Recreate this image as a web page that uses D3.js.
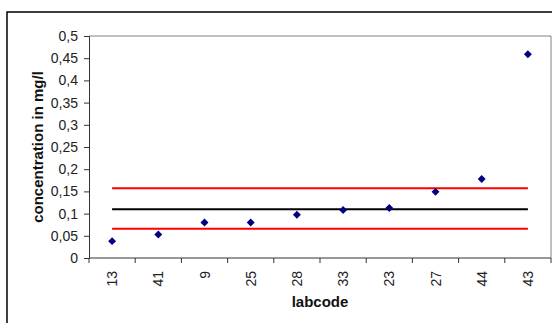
<!DOCTYPE html>
<html>
<head>
<meta charset="utf-8">
<script src="https://cdn.jsdelivr.net/npm/d3@7"></script>
<style>
  html, body { margin: 0; padding: 0; background: #fff; }
  svg { display: block; }
  text { font-family: "Liberation Sans", Arial, sans-serif; }
</style>
</head>
<body>
<svg id="chart" width="552" height="323"></svg>
<script>
// Lab results, sorted by concentration
const labcodes = ["13", "41", "9", "25", "28", "33", "23", "27", "44", "43"];
const concentrations = [0.038, 0.053, 0.080, 0.080, 0.0975, 0.108, 0.1125, 0.149, 0.178, 0.459];

// Reference value and tolerance limits
const assignedValue = 0.110;
const upperLimit = 0.157;
const lowerLimit = 0.066;

const yTicks = [0, 0.05, 0.1, 0.15, 0.2, 0.25, 0.3, 0.35, 0.4, 0.45, 0.5];

const svg = d3.select("#chart");
const plot = { left: 89, top: 36, right: 551, bottom: 258 };

// Outer chart frame
svg.append("rect")
  .attr("x", 7).attr("y", 12)
  .attr("width", 560).attr("height", 330)
  .attr("fill", "#fff").attr("stroke", "#000").attr("stroke-width", 1.5);

const x = d3.scaleBand().domain(labcodes).range([plot.left, plot.right]);
const y = d3.scaleLinear().domain([0, 0.5]).range([plot.bottom, plot.top]);

// Plot area border (top and right)
svg.append("path")
  .attr("d", `M${plot.left},${plot.top}H${plot.right}V${plot.bottom}`)
  .attr("fill", "none").attr("stroke", "#808080").attr("stroke-width", 1);

const fmt = d => String(d).replace(".", ",");

// Y axis
const yAxis = svg.append("g")
  .attr("transform", `translate(${plot.left},0)`)
  .call(d3.axisLeft(y).tickValues(yTicks).tickFormat(fmt).tickSize(5).tickPadding(6));
yAxis.select(".domain").attr("stroke", "#333");
yAxis.selectAll(".tick line").attr("stroke", "#333");
yAxis.selectAll(".tick text")
  .attr("font-size", 14).attr("fill", "#222")
  .attr("font-family", "Liberation Sans, Arial, sans-serif");

// X axis: ticks sit on category boundaries
const xAxisG = svg.append("g").attr("transform", `translate(0,${plot.bottom})`);
xAxisG.append("line")
  .attr("x1", plot.left).attr("x2", plot.right)
  .attr("stroke", "#333");
const boundaries = labcodes.map(c => x(c)).concat([plot.right]);
xAxisG.selectAll("line.tk").data(boundaries).join("line")
  .attr("class", "tk")
  .attr("x1", d => d).attr("x2", d => d)
  .attr("y1", 0).attr("y2", 5)
  .attr("stroke", "#333");
xAxisG.selectAll("text.lbl").data(labcodes).join("text")
  .attr("class", "lbl")
  .attr("transform", d => `translate(${x(d) + x.bandwidth() / 2 + 5},13) rotate(-90)`)
  .attr("text-anchor", "end")
  .attr("font-size", 14).attr("fill", "#222")
  .text(d => d);

// Axis titles
svg.append("text")
  .attr("transform", `translate(43,${(plot.top + plot.bottom) / 2}) rotate(-90)`)
  .attr("text-anchor", "middle")
  .attr("font-size", 15).attr("font-weight", "bold").attr("fill", "#111")
  .text("concentration in mg/l");
svg.append("text")
  .attr("x", (plot.left + plot.right) / 2).attr("y", 307)
  .attr("text-anchor", "middle")
  .attr("font-size", 15).attr("font-weight", "bold").attr("fill", "#111")
  .text("labcode");

const cx = c => x(c) + x.bandwidth() / 2;

// Reference and limit lines across all labs
const refLines = [
  { v: upperLimit, color: "#ff0000" },
  { v: assignedValue, color: "#000000" },
  { v: lowerLimit, color: "#ff0000" }
];
const lineGen = d3.line().x(d => cx(d.c)).y(d => y(d.v));
refLines.forEach(r => {
  svg.append("path")
    .datum(labcodes.map(c => ({ c, v: r.v })))
    .attr("d", lineGen)
    .attr("fill", "none").attr("stroke", r.color).attr("stroke-width", 2);
});

// Lab results as diamond markers
const diamond = d3.symbol().type(d3.symbolDiamond2).size(40);
svg.selectAll("path.pt").data(labcodes).join("path")
  .attr("class", "pt")
  .attr("transform", (c, i) => `translate(${cx(c)},${y(concentrations[i])})`)
  .attr("d", diamond)
  .attr("fill", "#000080");
</script>
</body>
</html>
